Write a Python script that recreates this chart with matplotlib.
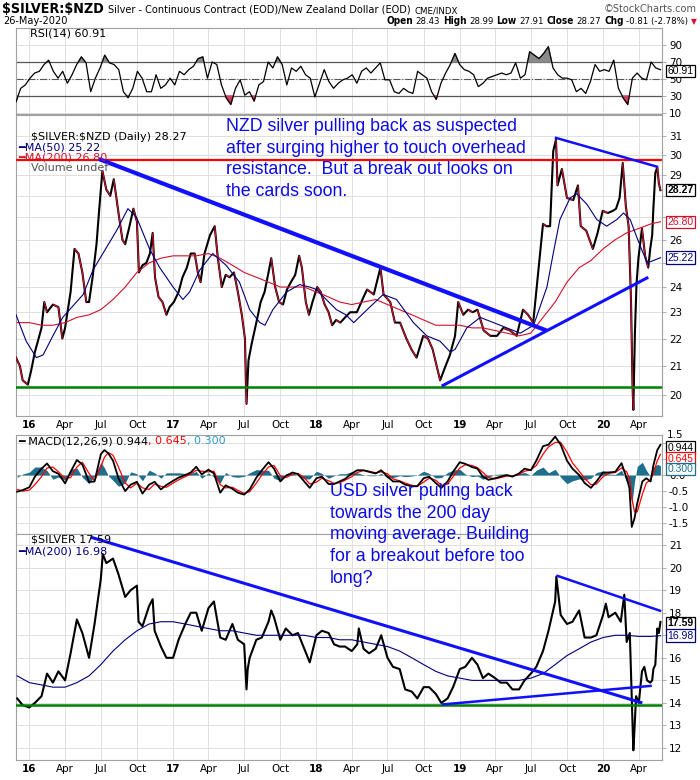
#!/usr/bin/env python3
"""Silver priced in NZD and USD - StockCharts style chart with RSI and MACD panels."""

import matplotlib

matplotlib.use("Agg")
import matplotlib.dates as mdates
import matplotlib.pyplot as plt
import numpy as np
import pandas as pd
from matplotlib import font_manager
from matplotlib.collections import LineCollection
from matplotlib.offsetbox import AnnotationBbox, HPacker, TextArea
from matplotlib.ticker import FuncFormatter, NullLocator

plt.rcParams["text.parse_math"] = False  # tickers start with "$"

# ---------------------------------------------------------------- data
nzd_dates = [
    "2015-11-28", "2015-12-08", "2015-12-15", "2015-12-28", "2016-01-05", "2016-01-15",
    "2016-02-01", "2016-02-08", "2016-02-15", "2016-03-01", "2016-03-15", "2016-03-25",
    "2016-04-01", "2016-04-15", "2016-04-25", "2016-05-05", "2016-05-15", "2016-05-25",
    "2016-06-01", "2016-06-10", "2016-06-20", "2016-06-27", "2016-07-05", "2016-07-15",
    "2016-07-25", "2016-08-03", "2016-08-15", "2016-08-25", "2016-09-01", "2016-09-12",
    "2016-09-22", "2016-10-01", "2016-10-06", "2016-10-15", "2016-10-25", "2016-11-03",
    "2016-11-10", "2016-11-16", "2016-11-25", "2016-12-05", "2016-12-15", "2016-12-23",
    "2017-01-03", "2017-01-15", "2017-01-25", "2017-02-05", "2017-02-15", "2017-02-25",
    "2017-03-05", "2017-03-12", "2017-03-22", "2017-04-05", "2017-04-17", "2017-04-25",
    "2017-05-05", "2017-05-15", "2017-05-25", "2017-06-05", "2017-06-15", "2017-06-25",
    "2017-07-03", "2017-07-07", "2017-07-12", "2017-07-20", "2017-08-01", "2017-08-12",
    "2017-08-22", "2017-09-01", "2017-09-08", "2017-09-18", "2017-09-28", "2017-10-08",
    "2017-10-18", "2017-10-28", "2017-11-08", "2017-11-18", "2017-11-25", "2017-12-05",
    "2017-12-13", "2017-12-22", "2018-01-03", "2018-01-12", "2018-01-22", "2018-02-01",
    "2018-02-10", "2018-02-20", "2018-03-03", "2018-03-15", "2018-03-28", "2018-04-14",
    "2018-05-01", "2018-05-10", "2018-05-27", "2018-06-13", "2018-06-21", "2018-07-08",
    "2018-07-20", "2018-08-02", "2018-08-18", "2018-08-31", "2018-09-13", "2018-09-30",
    "2018-10-12", "2018-10-24", "2018-11-12", "2018-11-23", "2018-12-07", "2018-12-20",
    "2018-12-28", "2019-01-10", "2019-01-22", "2019-02-03", "2019-02-15", "2019-03-03",
    "2019-03-20", "2019-04-06", "2019-04-22", "2019-05-09", "2019-05-26", "2019-06-11",
    "2019-06-24", "2019-07-07", "2019-07-19", "2019-08-01", "2019-08-10", "2019-08-19",
    "2019-08-27", "2019-09-03", "2019-09-07", "2019-09-18", "2019-10-01", "2019-10-17",
    "2019-10-29", "2019-11-05", "2019-11-19", "2019-12-06", "2019-12-18", "2019-12-31",
    "2020-01-13", "2020-01-26", "2020-02-03", "2020-02-12", "2020-02-20", "2020-02-28",
    "2020-03-06", "2020-03-12", "2020-03-16", "2020-03-18", "2020-03-22", "2020-03-26",
    "2020-03-31", "2020-04-09", "2020-04-17", "2020-04-25", "2020-04-30", "2020-05-05",
    "2020-05-08", "2020-05-13", "2020-05-18", "2020-05-22", "2020-05-26",
]
nzd_close = [
    21.3, 21.0, 20.5, 20.35, 20.8, 21.5,
    22.4, 23.4, 23.0, 23.3, 23.2, 22.0,
    22.4, 23.8, 25.6, 25.4, 24.6, 23.4,
    23.4, 24.4, 25.8, 27.4, 29.2, 28.3,
    28.0, 28.8, 27.2, 26.0, 25.8, 26.6,
    27.4, 26.8, 24.6, 24.9, 25.0, 25.4,
    26.3, 24.4, 23.6, 23.4, 22.9, 23.2,
    23.4, 23.8, 24.4, 24.8, 25.4, 25.4,
    24.6, 24.2, 25.4, 26.2, 26.6, 25.2,
    24.0, 24.5, 24.4, 24.6, 23.8, 22.9,
    22.0, 19.7, 21.2, 21.8, 22.6, 23.4,
    23.8, 24.6, 25.2, 24.0, 23.4, 23.3,
    23.9, 24.2, 24.5, 25.3, 24.8, 23.4,
    22.9, 23.4, 24.0, 23.8, 23.3, 23.0,
    22.5, 22.7, 22.6, 22.8, 23.0, 23.0,
    23.6, 23.9, 23.7, 24.8, 23.7, 23.4,
    22.6, 22.6, 22.0, 21.6, 21.3, 22.1,
    22.0, 21.6, 20.5, 20.9, 21.4, 22.1,
    23.4, 22.9, 23.1, 23.0, 23.1, 22.3,
    22.1, 22.1, 22.4, 22.3, 22.1, 23.1,
    22.9, 22.6, 24.5, 26.7, 26.6, 26.6,
    30.2, 30.8, 28.5, 29.3, 27.9, 27.8,
    28.5, 26.6, 26.4, 25.6, 26.3, 27.3,
    27.2, 27.3, 27.4, 27.9, 29.6, 27.5,
    26.6, 23.5, 20.3, 19.5, 22.2, 24.1,
    25.2, 26.5, 25.3, 24.8, 25.6, 26.2,
    27.4, 29.1, 29.4, 28.6, 28.27,
]

nzd_ma50_dates = [
    "2015-11-28", "2015-12-24", "2016-01-19", "2016-02-05", "2016-03-01", "2016-03-26",
    "2016-05-17", "2016-06-11", "2016-08-10", "2016-09-08", "2016-09-30", "2016-11-02",
    "2016-11-28", "2017-01-01", "2017-01-26", "2017-02-12", "2017-03-10", "2017-04-12",
    "2017-05-16", "2017-06-19", "2017-07-15", "2017-08-10", "2017-08-23", "2017-09-12",
    "2017-10-17", "2017-11-19", "2017-12-15", "2018-01-01", "2018-01-26", "2018-02-21",
    "2018-03-17", "2018-04-06", "2018-05-10", "2018-06-20", "2018-07-24", "2018-09-05",
    "2018-10-09", "2018-11-12", "2018-12-08", "2018-12-20", "2019-01-19", "2019-02-22",
    "2019-03-28", "2019-05-01", "2019-06-04", "2019-07-08", "2019-08-11", "2019-08-27",
    "2019-09-13", "2019-10-09", "2019-10-26", "2019-11-21", "2019-12-16", "2020-01-10",
    "2020-02-05", "2020-02-22", "2020-03-10", "2020-03-27", "2020-04-22", "2020-05-08",
    "2020-05-26",
]
nzd_ma50 = [
    22.9, 21.9, 21.3, 21.4, 22.1, 22.8,
    23.7, 24.7, 26.4, 27.4, 27.0, 25.6,
    24.8, 24.0, 23.5, 23.8, 24.7, 25.4,
    24.9, 24.2, 23.1, 22.6, 22.5, 23.1,
    23.8, 24.1, 24.0, 23.9, 23.5, 23.1,
    22.9, 22.6, 23.1, 23.7, 23.5, 22.6,
    22.1, 21.9, 21.5, 21.6, 22.4, 22.8,
    22.6, 22.4, 22.2, 22.5, 24.0, 25.4,
    26.9, 27.9, 28.1, 27.6, 26.9, 26.6,
    26.9, 27.2, 26.9, 26.1, 25.0, 25.1,
    25.22,
]

nzd_ma200_dates = [
    "2015-12-01", "2016-01-01", "2016-02-01", "2016-03-01", "2016-04-01", "2016-05-01",
    "2016-06-01", "2016-07-01", "2016-08-01", "2016-09-01", "2016-10-01", "2016-11-01",
    "2016-12-01", "2017-01-01", "2017-02-01", "2017-03-01", "2017-04-01", "2017-05-01",
    "2017-06-01", "2017-07-01", "2017-08-01", "2017-09-01", "2017-10-01", "2017-11-01",
    "2017-12-01", "2018-01-01", "2018-02-01", "2018-03-01", "2018-04-01", "2018-05-01",
    "2018-06-01", "2018-07-01", "2018-08-01", "2018-09-01", "2018-10-01", "2018-11-01",
    "2018-12-01", "2019-01-01", "2019-02-01", "2019-03-01", "2019-04-01", "2019-05-01",
    "2019-06-01", "2019-07-01", "2019-08-01", "2019-09-01", "2019-10-01", "2019-11-01",
    "2019-12-01", "2020-01-01", "2020-02-01", "2020-03-01", "2020-04-01", "2020-05-01",
    "2020-05-26",
]
nzd_ma200 = [
    22.6, 22.6, 22.5, 22.5, 22.6, 22.8,
    22.9, 23.1, 23.5, 24.0, 24.6, 25.0,
    25.2, 25.3, 25.3, 25.3, 25.4, 25.2,
    24.9, 24.6, 24.4, 24.2, 24.0, 24.0,
    24.0, 23.8, 23.6, 23.4, 23.3, 23.4,
    23.5, 23.3, 23.1, 22.9, 22.7, 22.5,
    22.5, 22.5, 22.4, 22.4, 22.3, 22.2,
    22.1, 22.2, 22.8, 23.4, 24.2, 24.8,
    25.1, 25.6, 26.0, 26.3, 26.5, 26.7,
    26.8,
]

# RSI(14), read at roughly even steps across the whole date range
rsi_values = [
    23, 39, 43, 51, 57, 59, 67, 72, 59, 51, 59, 45, 55, 67, 76, 69, 35, 51, 63, 78,
    69, 67, 61, 35, 28, 39, 59, 51, 35, 35, 55, 39, 43, 51, 43, 59, 55, 61, 65, 74,
    76, 51, 70, 67, 43, 28, 20, 39, 49, 31, 35, 24, 43, 47, 70, 63, 76, 67, 43, 63,
    59, 65, 55, 51, 29, 45, 61, 47, 39, 45, 49, 51, 55,
    45, 59, 63, 57, 63, 69, 49, 49, 35, 33, 39, 35, 33, 59, 55, 51, 35, 26, 45, 57,
    67, 80, 67, 61, 59, 55, 41, 45, 51, 53, 55, 57, 55, 57, 69, 51, 55, 82, 78, 74,
    80, 88, 63, 55, 51, 51, 49, 35, 39, 33, 47, 67, 59, 61, 59, 72, 39, 28, 20, 51,
    57, 51, 49, 70, 63, 60.91,
]

macd_dates = [
    "2015-12-01", "2015-12-15", "2016-01-01", "2016-01-15", "2016-02-01", "2016-02-15",
    "2016-03-01", "2016-03-15", "2016-04-01", "2016-04-15", "2016-05-01", "2016-05-15",
    "2016-06-01", "2016-06-15", "2016-07-01", "2016-07-10", "2016-07-20", "2016-08-01",
    "2016-08-15", "2016-09-01", "2016-09-15", "2016-10-01", "2016-10-15", "2016-11-01",
    "2016-11-15", "2016-12-01", "2016-12-15", "2017-01-01", "2017-01-15", "2017-02-01",
    "2017-02-15", "2017-03-01", "2017-03-15", "2017-04-01", "2017-04-15", "2017-05-01",
    "2017-05-15", "2017-06-01", "2017-06-15", "2017-07-01", "2017-07-15", "2017-08-01",
    "2017-08-15", "2017-09-01", "2017-09-15", "2017-10-01", "2017-10-15", "2017-11-01",
    "2017-11-15", "2017-12-01", "2017-12-15", "2018-01-01", "2018-01-15", "2018-02-01",
    "2018-02-15", "2018-03-01", "2018-03-15", "2018-04-01", "2018-04-15", "2018-05-01",
    "2018-05-15", "2018-06-01", "2018-06-15", "2018-07-01", "2018-07-15", "2018-08-01",
    "2018-08-15", "2018-09-01", "2018-09-15", "2018-10-01", "2018-10-15", "2018-11-01",
    "2018-11-15", "2018-12-01", "2018-12-15", "2019-01-01", "2019-01-15", "2019-02-01",
    "2019-02-15", "2019-03-01", "2019-03-15", "2019-04-01", "2019-04-15", "2019-05-01",
    "2019-05-15", "2019-06-01", "2019-06-15", "2019-07-01", "2019-07-15", "2019-08-01",
    "2019-08-15", "2019-09-01", "2019-09-15", "2019-10-01", "2019-10-15", "2019-11-01",
    "2019-11-15", "2019-12-01", "2019-12-15", "2020-01-01", "2020-01-15", "2020-02-01",
    "2020-02-17", "2020-03-01", "2020-03-08", "2020-03-14", "2020-03-21", "2020-03-28",
    "2020-04-10", "2020-04-20", "2020-05-01", "2020-05-08", "2020-05-18", "2020-05-26",
]
macd_line = [
    -0.52, -0.47, -0.38, -0.05, 0.20, 0.36,
    0.12, 0.04, -0.26, 0.10, 0.47, 0.33,
    -0.22, -0.20, 0.65, 0.78, 0.68, 0.45,
    -0.10, -0.50, -0.30, -0.21, -0.58, -0.30,
    -0.21, -0.45, -0.31, -0.18, -0.08, 0.00,
    0.08, 0.26, 0.02, 0.17, 0.05, -0.55,
    -0.32, -0.43, -0.55, -0.61, -0.45, -0.08,
    0.15, 0.40, 0.20, -0.20, -0.03, 0.08,
    0.03, -0.20, -0.40, -0.10, -0.05, -0.28,
    -0.28, -0.20, -0.12, 0.05, 0.15, 0.15,
    0.10, 0.05, 0.15, -0.05, -0.20, -0.20,
    -0.30, -0.35, -0.35, -0.10, -0.05, -0.25,
    -0.40, -0.20, 0.10, 0.40, 0.35, 0.25,
    0.20, -0.05, -0.15, -0.10, -0.05, 0.00,
    -0.05, 0.05, 0.20, 0.15, 0.45, 0.90,
    0.95, 1.20, 0.95, 0.45, 0.20, 0.00,
    -0.25, -0.40, -0.20, 0.08, 0.08, 0.10,
    0.37, -0.10, -0.40, -1.62, -1.35, -0.88,
    -0.20, -0.10, -0.20, 0.30, 0.78, 0.944,
]
macd_signal = [
    -0.45, -0.50, -0.47, -0.30, -0.05, 0.22,
    0.25, 0.10, -0.10, -0.08, 0.25, 0.40,
    0.05, -0.18, 0.25, 0.55, 0.70, 0.62,
    0.25, -0.25, -0.40, -0.25, -0.40, -0.45,
    -0.28, -0.35, -0.38, -0.25, -0.15, -0.05,
    0.03, 0.15, 0.12, 0.10, 0.12, -0.30,
    -0.40, -0.38, -0.48, -0.57, -0.52, -0.25,
    0.00, 0.25, 0.30, -0.02, -0.08, 0.02,
    0.05, -0.08, -0.28, -0.22, -0.10, -0.18,
    -0.26, -0.24, -0.16, -0.05, 0.08, 0.14,
    0.12, 0.07, 0.10, 0.04, -0.12, -0.18,
    -0.25, -0.32, -0.35, -0.22, -0.10, -0.16,
    -0.32, -0.28, -0.05, 0.22, 0.32, 0.30,
    0.23, 0.08, -0.08, -0.12, -0.08, -0.03,
    -0.03, 0.01, 0.12, 0.16, 0.30, 0.65,
    0.88, 1.02, 1.02, 0.72, 0.38, 0.12,
    -0.10, -0.30, -0.28, -0.05, 0.05, 0.08,
    0.22, 0.10, -0.10, -0.70, -1.15, -1.15,
    -0.60, -0.25, -0.15, 0.05, 0.45, 0.645,
]
macd_hist_last = 0.300

usd_dates = [
    "2015-12-01", "2015-12-15", "2016-01-01", "2016-01-15", "2016-02-01", "2016-02-15",
    "2016-03-01", "2016-03-15", "2016-04-01", "2016-04-15", "2016-05-01", "2016-05-15",
    "2016-06-01", "2016-06-15", "2016-07-01", "2016-07-06", "2016-07-15", "2016-08-01",
    "2016-08-15", "2016-09-01", "2016-09-15", "2016-10-01", "2016-10-05", "2016-10-15",
    "2016-11-01", "2016-11-10", "2016-11-15", "2016-12-01", "2016-12-15", "2017-01-01",
    "2017-01-15", "2017-02-01", "2017-02-15", "2017-03-01", "2017-03-15", "2017-04-01",
    "2017-04-15", "2017-05-01", "2017-05-15", "2017-06-01", "2017-06-15", "2017-07-01",
    "2017-07-07", "2017-07-10", "2017-07-15", "2017-08-01", "2017-08-15", "2017-09-01",
    "2017-09-08", "2017-09-15", "2017-10-01", "2017-10-15", "2017-11-01", "2017-11-15",
    "2017-12-01", "2017-12-15", "2018-01-01", "2018-01-15", "2018-02-01", "2018-02-15",
    "2018-03-01", "2018-03-15", "2018-04-01", "2018-04-15", "2018-04-19", "2018-05-01",
    "2018-05-15", "2018-06-01", "2018-06-15", "2018-07-01", "2018-07-15", "2018-08-01",
    "2018-08-15", "2018-09-01", "2018-09-15", "2018-10-01", "2018-10-15", "2018-11-01",
    "2018-11-15", "2018-12-01", "2018-12-15", "2019-01-01", "2019-01-15", "2019-02-01",
    "2019-02-15", "2019-03-01", "2019-03-15", "2019-04-01", "2019-04-15", "2019-05-01",
    "2019-05-15", "2019-06-01", "2019-06-15", "2019-07-01", "2019-07-15", "2019-08-01",
    "2019-08-15", "2019-09-01", "2019-09-04", "2019-09-15", "2019-10-01", "2019-10-15",
    "2019-11-01", "2019-11-15", "2019-12-01", "2019-12-15", "2020-01-01", "2020-01-08",
    "2020-01-15", "2020-02-01", "2020-02-15", "2020-02-24", "2020-03-01", "2020-03-09",
    "2020-03-13", "2020-03-18", "2020-03-20", "2020-03-25", "2020-04-01", "2020-04-09",
    "2020-04-15", "2020-04-22", "2020-04-30", "2020-05-05", "2020-05-08", "2020-05-13",
    "2020-05-18", "2020-05-22", "2020-05-26",
]
usd_close = [
    14.2, 13.9, 13.8, 14.0, 14.3, 15.3,
    14.9, 15.4, 15.0, 16.2, 17.7, 17.1,
    16.0, 17.5, 19.5, 20.6, 20.2, 20.4,
    19.7, 18.7, 19.0, 19.2, 17.6, 17.4,
    18.3, 18.6, 17.2, 16.5, 16.0, 16.0,
    16.8, 17.5, 18.0, 18.0, 17.2, 18.2,
    18.5, 16.9, 16.8, 17.5, 16.8, 16.6,
    14.6, 15.5, 16.0, 16.8, 16.9, 17.6,
    18.1, 17.8, 16.8, 17.3, 17.0, 17.1,
    16.4, 15.8, 17.0, 17.2, 17.1, 16.6,
    16.5, 16.5, 16.3, 16.6, 17.3, 16.4,
    16.2, 16.4, 17.0, 16.0, 15.6, 15.5,
    14.6, 14.5, 14.2, 14.7, 14.7, 14.4,
    14.0, 14.2, 14.7, 15.5, 15.6, 16.0,
    15.7, 15.1, 15.3, 15.1, 14.9, 14.9,
    14.6, 14.6, 15.0, 15.3, 15.6, 16.3,
    17.2, 18.5, 19.6, 17.9, 17.5, 17.6,
    18.1, 16.9, 16.9, 17.0, 17.9, 18.4,
    17.8, 18.0, 17.6, 18.8, 16.7, 17.1,
    14.8, 11.9, 12.5, 14.3, 14.0, 15.4,
    15.6, 15.0, 14.9, 15.0, 15.5, 15.7,
    17.3, 17.1, 17.59,
]

usd_ma200_dates = nzd_ma200_dates
usd_ma200 = [
    15.2, 14.9, 14.8, 14.7, 14.7, 14.9,
    15.2, 15.7, 16.3, 16.8, 17.2, 17.5,
    17.6, 17.6, 17.5, 17.4, 17.3, 17.2,
    17.2, 17.1, 17.0, 17.0, 17.0, 17.0,
    17.0, 16.9, 16.9, 16.8, 16.8, 16.7,
    16.6, 16.5, 16.3, 16.0, 15.7, 15.4,
    15.2, 15.1, 15.0, 15.0, 15.0, 15.0,
    15.0, 15.1, 15.3, 15.7, 16.1, 16.4,
    16.7, 16.9, 17.0, 17.0, 16.95, 16.95,
    16.98,
]

# hand drawn trend lines: (start date, start value, end date, end value)
nzd_trend_lines = [
    ("2016-06-26", 29.8, "2019-08-10", 22.3),
    ("2018-11-16", 20.3, "2020-04-25", 24.4),
    ("2019-08-31", 30.9, "2020-05-20", 29.4),
]
nzd_resistance = 29.77
nzd_support = 20.28
usd_trend_lines = [
    ("2016-06-05", 21.35, "2020-04-10", 14.0),
    ("2018-11-16", 13.93, "2020-05-04", 14.76),
    ("2019-09-04", 19.65, "2020-05-28", 18.07),
]
usd_support = 13.93

nzd_note = ("NZD silver pulling back as suspected\nafter surging higher to touch overhead\n"
            "resistance.  But a break out looks on\nthe cards soon.")
usd_note = ("USD silver pulling back\ntowards the 200 day\nmoving average. Building\n"
            "for a breakout before too\nlong?")

# ---------------------------------------------------------------- fonts
_fonts = font_manager.fontManager.ttflist
if any(f.name == "Liberation Sans Narrow" for f in _fonts):
    NARROW = dict(family="Liberation Sans Narrow")
    NSCALE = 1.0
elif any(f.name == "DejaVu Sans" and "ondensed" in f.fname for f in _fonts):
    NARROW = dict(family="DejaVu Sans", stretch="condensed")
    NSCALE = 0.92
else:
    NARROW = dict(family="Liberation Sans")
    NSCALE = 0.88

# ---------------------------------------------------------------- layout helpers
W, H = 700, 780
GRID = "#e0e0e0"
EDGE = "#a0a0a0"
NAVY = "#00007a"
RED = "#d0112b"
TEAL = "#1f6e8c"
NOTE_BLUE = "#0a0ae6"
X0, X1 = pd.Timestamp("2015-11-28"), pd.Timestamp("2020-05-30")
quarters = pd.date_range("2016-01-01", "2020-04-01", freq="QS")

fig = plt.figure(figsize=(W / 100, H / 100), dpi=100)
fig.patch.set_facecolor("white")


def narrow(label, size):
    label.set_family(NARROW["family"])
    if "stretch" in NARROW:
        label.set_stretch(NARROW["stretch"])
    label.set_fontsize(size * NSCALE)


def nfont(size, **kw):
    d = dict(NARROW)
    d["size"] = size * NSCALE
    d.update(kw)
    return d


def panel(x0, y0, x1, y1):
    """Add an axes given its pixel box (origin top-left)."""
    ax = fig.add_axes([x0 / W, 1 - y1 / H, (x1 - x0) / W, (y1 - y0) / H])
    ax.set_facecolor("white")
    for s in ax.spines.values():
        s.set_color(EDGE)
        s.set_linewidth(0.8)
    ax.yaxis.tick_right()
    ax.tick_params(axis="y", length=3, width=0.6, color=EDGE, pad=2)
    ax.tick_params(axis="x", length=0, labelbottom=False)
    ax.set_xlim(X0, X1)
    ax.set_xticks(quarters)
    ax.grid(True, color=GRID, lw=0.7)
    ax.set_axisbelow(True)
    return ax


def date_labels(ax):
    labels = [f"{d.year % 100:02d}" if d.month == 1 else d.strftime("%b") for d in quarters]
    ax.set_xticklabels(labels)
    ax.tick_params(axis="x", labelbottom=True, pad=3)
    for lbl, d in zip(ax.get_xticklabels(), quarters):
        narrow(lbl, 9)
        if d.month == 1:
            lbl.set_fontweight("bold")


def y_labels(ax, ticks, fmt="{:g}", hidden=()):
    """Right hand labels; the ones covered by value tags in the original are left blank."""
    ax.set_yticks(ticks)
    ax.yaxis.set_minor_locator(NullLocator())
    ax.yaxis.set_major_formatter(
        FuncFormatter(lambda v, _: "" if any(abs(v - h) < 1e-6 for h in hidden) else fmt.format(v)))
    for lbl in ax.get_yticklabels():
        narrow(lbl, 9)


def value_tag(ax, val, text, color, bold=False, shift=0):
    ax.annotate(text, xy=(1, val), xycoords=("axes fraction", "data"),
                xytext=(4, shift), textcoords="offset points", ha="left", va="center",
                fontsize=7.5, color=color, family="Liberation Sans",
                fontweight="bold" if bold else "normal",
                bbox=dict(boxstyle="square,pad=0.12", fc="white", ec=color, lw=0.9),
                zorder=20, annotation_clip=False)


def price_line(ax, dates, values, lw=1.4, down_color=None):
    """Close line; falling legs get a thin red core (mimics red down bars)."""
    x = pd.to_datetime(dates)
    y = np.asarray(values, dtype=float)
    ax.plot(x, y, color="black", lw=lw, zorder=3)
    if down_color:
        xn = mdates.date2num(x)
        pts = np.column_stack([xn, y]).reshape(-1, 1, 2)
        segs = np.concatenate([pts[:-1], pts[1:]], axis=1)[np.diff(y) < 0]
        ax.add_collection(LineCollection(segs, colors=down_color, linewidths=lw * 0.55,
                                         zorder=3.5))


def trend(ax, lines, widths):
    for (d0, v0, d1, v1), lw in zip(lines, widths):
        ax.plot(pd.to_datetime([d0, d1]), [v0, v1], color="#1010ff", lw=lw,
                solid_capstyle="butt", zorder=5)


def legend_text(x, y, text, color="black", size=8):
    fig.text(x / W, 1 - y / H, text, color=color, fontsize=size, va="center",
             family="DejaVu Sans")


def text_run(x, y, parts, right=False, sep=3):
    """Several differently styled strings on one baseline."""
    boxes = [TextArea(t, textprops=kw) for t, kw in parts]
    pack = HPacker(children=boxes, align="baseline", pad=0, sep=sep)
    ab = AnnotationBbox(pack, (x / W, 1 - y / H), xycoords="figure fraction",
                        box_alignment=(1 if right else 0, 0.5), frameon=False, pad=0)
    fig.add_artist(ab)


# ---------------------------------------------------------------- RSI panel
ax_rsi = panel(16, 28, 662, 114)
rsi_dates = pd.date_range("2015-11-28", "2020-05-26", periods=len(rsi_values))
rsi = np.asarray(rsi_values, dtype=float)
ax_rsi.set_ylim(8.8, 110)
y_labels(ax_rsi, [10, 30, 50, 70, 90])
ax_rsi.axhline(70, color="#555555", lw=0.9, zorder=2)
ax_rsi.axhline(30, color="#555555", lw=0.9, zorder=2)
ax_rsi.axhline(50, color="#555555", lw=0.8, ls="-.", zorder=2)
ax_rsi.fill_between(rsi_dates, rsi, 70, where=rsi >= 70, interpolate=True,
                    color="#8a8a8a", zorder=2)
ax_rsi.fill_between(rsi_dates, rsi, 30, where=rsi <= 30, interpolate=True,
                    color="#d04060", zorder=2)
ax_rsi.plot(rsi_dates, rsi, color="black", lw=0.9, zorder=3)
value_tag(ax_rsi, rsi_values[-1], f"{rsi_values[-1]:.2f}", "black", shift=-1)
legend_text(30, 34, f"RSI(14) {rsi_values[-1]:.2f}")

# ---------------------------------------------------------------- NZD price panel
ax_main = panel(16, 115, 662, 416)
ax_main.set_yscale("log")
ax_main.set_ylim(19.3, 32.1)
y_labels(ax_main, list(range(20, 32)), hidden=(25, 27, 28))
ax_main.axhline(nzd_resistance, color="#ff0000", lw=1.6, zorder=4)
ax_main.axhline(nzd_support, color="#008000", lw=1.8, zorder=4)
ax_main.plot(pd.to_datetime(nzd_ma200_dates), nzd_ma200, color=RED, lw=0.8, zorder=4)
ax_main.plot(pd.to_datetime(nzd_ma50_dates), nzd_ma50, color=NAVY, lw=0.8, zorder=4)
price_line(ax_main, nzd_dates, nzd_close, lw=1.5, down_color=RED)
trend(ax_main, nzd_trend_lines, [3.0, 2.2, 1.8])
date_labels(ax_main)
value_tag(ax_main, nzd_close[-1], f"{nzd_close[-1]:.2f}", "black", bold=True)
value_tag(ax_main, nzd_ma200[-1], f"{nzd_ma200[-1]:.2f}", RED)
value_tag(ax_main, nzd_ma50[-1], f"{nzd_ma50[-1]:.2f}", NAVY)
legend_text(31, 137, f"$SILVER:$NZD (Daily) {nzd_close[-1]:.2f}")
legend_text(18, 147, f"\u2501MA(50) {nzd_ma50[-1]:.2f}", NAVY)
legend_text(18, 158, f"\u2501MA(200) {nzd_ma200[-1]:.2f}", RED)
legend_text(31, 168, "Volume undef", "#555555")
fig.text(226 / W, 1 - 118 / H, nzd_note, color=NOTE_BLUE, fontsize=12.8, va="top",
         family=["Liberation Sans", "DejaVu Sans"], linespacing=1.36)

# ---------------------------------------------------------------- MACD panel
ax_macd = panel(16, 435, 662, 534)
mdt = pd.to_datetime(macd_dates)
macd = np.asarray(macd_line)
sig = np.asarray(macd_signal)
ax_macd.set_ylim(-1.84, 1.25)
y_labels(ax_macd, [-1.5, -1.0, -0.5, 0.0, 0.5, 1.0], "{:.1f}", hidden=(0.5, 1.0))
# StockCharts pins the clipped top label to the panel edge
ax_macd.text(1 + 5 / 646, 1, "1.5", transform=ax_macd.transAxes, ha="left", va="center",
             clip_on=False, **nfont(9))
ax_macd.fill_between(mdt, macd - sig, 0, color=TEAL, lw=0, zorder=2)
ax_macd.plot(mdt, sig, color="#ff0000", lw=0.9, zorder=3)
ax_macd.plot(mdt, macd, color="black", lw=1.3, zorder=4)
value_tag(ax_macd, macd_line[-1], f"{macd_line[-1]:.3f}", "black", shift=-2)
value_tag(ax_macd, macd_signal[-1], f"{macd_signal[-1]:.3f}", "#ff0000", shift=-3)
value_tag(ax_macd, macd_hist_last, f"{macd_hist_last:.3f}", TEAL, shift=-2.5)
text_run(18, 441, [
    (f"\u2501 MACD(12,26,9) {macd_line[-1]:.3f}", dict(color="black", size=8)),
    (f", {macd_signal[-1]:.3f}", dict(color="#ff0000", size=8)),
    (f", {macd_hist_last:.3f}", dict(color="#3399cc", size=8)),
], sep=0)

# ---------------------------------------------------------------- USD price panel
ax_usd = panel(16, 534, 662, 760)
ax_usd.set_ylim(11.47, 21.49)
y_labels(ax_usd, list(range(12, 22)), hidden=(17,))
ax_usd.axhline(usd_support, color="#008000", lw=1.8, zorder=4)
ax_usd.plot(pd.to_datetime(usd_ma200_dates), usd_ma200, color=NAVY, lw=0.8, zorder=4)
price_line(ax_usd, usd_dates, usd_close, lw=1.5)
trend(ax_usd, usd_trend_lines, [2.2, 1.8, 1.8])
date_labels(ax_usd)
value_tag(ax_usd, usd_close[-1], f"{usd_close[-1]:.2f}", "black", bold=True, shift=-1)
value_tag(ax_usd, usd_ma200[-1], f"{usd_ma200[-1]:.2f}", NAVY)
legend_text(31, 540, f"$SILVER {usd_close[-1]:.2f}")
legend_text(18, 551, f"\u2501MA(200) {usd_ma200[-1]:.2f}", NAVY)
fig.text(330 / W, 1 - 483 / H, usd_note, color=NOTE_BLUE, fontsize=12.8, va="top",
         family=["Liberation Sans", "DejaVu Sans"], linespacing=1.36)

# ---------------------------------------------------------------- header
text_run(2, 9, [
    ("$SILVER:$NZD", nfont(11.2, weight="bold")),
    ("Silver - Continuous Contract (EOD)/New Zealand Dollar (EOD)", nfont(8.5)),
    ("CME/INDX", dict(size=6.2, family="DejaVu Sans")),
])
fig.text(697 / W, 1 - 9 / H, "\u00a9StockCharts.com", ha="right", va="center",
         color="#555555", **nfont(8.5))
fig.text(3 / W, 1 - 21 / H, "26-May-2020", va="center", **nfont(8.5))
text_run(697, 21, [
    ("Open", nfont(7.8, weight="bold")),
    ("28.43", nfont(7.4)),
    ("High", nfont(7.8, weight="bold")),
    ("28.99", nfont(7.4)),
    ("Low", nfont(7.8, weight="bold")),
    ("27.91", nfont(7.4)),
    ("Close", nfont(7.8, weight="bold")),
    ("28.27", nfont(7.4)),
    ("Chg", nfont(7.8, weight="bold")),
    ("-0.81 (-2.78%)", nfont(7.4)),
    ("\u25bc", dict(size=5.5, color=RED, family="DejaVu Sans")),
], right=True, sep=2)

fig.savefig("out.png", dpi=100)
